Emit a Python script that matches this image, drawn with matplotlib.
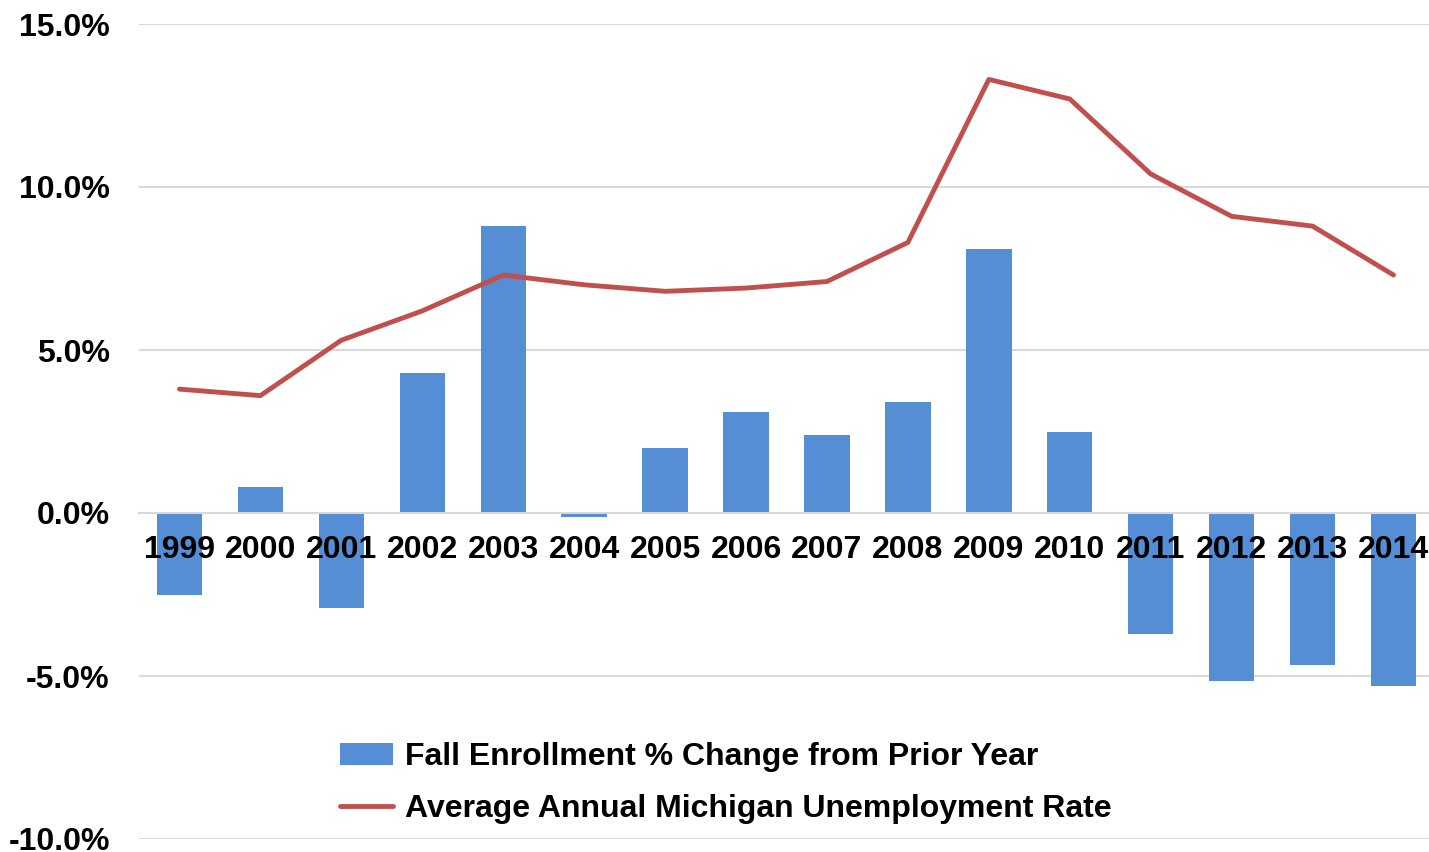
import matplotlib
matplotlib.use("Agg")
import matplotlib.pyplot as plt
from matplotlib.ticker import FuncFormatter, MultipleLocator

years = ["1999", "2000", "2001", "2002", "2003", "2004", "2005", "2006",
         "2007", "2008", "2009", "2010", "2011", "2012", "2013", "2014"]
enrollment_change = [-2.5, 0.8, -2.9, 4.3, 8.8, -0.12, 2.0, 3.1,
                     2.4, 3.4, 8.1, 2.5, -3.7, -5.15, -4.65, -5.3]
unemployment = [3.8, 3.6, 5.3, 6.2, 7.3, 7.0, 6.8, 6.9,
                7.1, 8.3, 13.3, 12.7, 10.4, 9.1, 8.8, 7.3]

bar_label = "Fall Enrollment % Change from Prior Year"
line_label = "Average Annual Michigan Unemployment Rate"

plt.rcParams['font.family'] = ['Liberation Sans', 'DejaVu Sans']
plt.rcParams['font.weight'] = 'bold'

W, H = 1429, 852
fig = plt.figure(figsize=(W / 100, H / 100), dpi=100)
left, right, top, bottom = 139, 1434, 24, 839
ax = fig.add_axes([left / W, (H - bottom) / H, (right - left) / W, (bottom - top) / H])

x = list(range(len(years)))
bars = ax.bar(x, enrollment_change, width=0.56, color="#558ED5", label=bar_label, zorder=2)
line, = ax.plot(x, unemployment, color="#C0504D", linewidth=3.5, label=line_label,
                solid_capstyle='round', zorder=4)

ax.set_xlim(-0.5, len(years) - 0.5)
ax.set_ylim(-10, 15)
ax.yaxis.set_major_locator(MultipleLocator(5))
ax.yaxis.set_major_formatter(FuncFormatter(lambda v, p: f"{v:.1f}%"))

ax.set_axisbelow(True)
ax.yaxis.grid(True, color="#D9D9D9", linewidth=1.5)
ax.xaxis.set_zorder(5)

for s in ["top", "right", "left"]:
    ax.spines[s].set_visible(False)
ax.spines["bottom"].set_position(("data", 0))
ax.spines["bottom"].set_color("#D9D9D9")
ax.spines["bottom"].set_linewidth(1.5)
ax.spines["bottom"].set_zorder(3)

ax.set_xticks(x)
ax.set_xticklabels(years)
ax.tick_params(axis="x", length=0, pad=16, labelsize=23)
ax.tick_params(axis="y", length=0, pad=21, labelsize=23)
for lbl in ax.get_xticklabels() + ax.get_yticklabels():
    lbl.set_fontweight("bold")

leg = fig.legend(handles=[bars, line], loc="center", bbox_to_anchor=(0.508, 0.081),
                 frameon=False, handlelength=1.65, handletextpad=0.4,
                 labelspacing=0.68, prop={'weight': 'bold', 'size': 23})

fig.savefig("out.png", dpi=100)
